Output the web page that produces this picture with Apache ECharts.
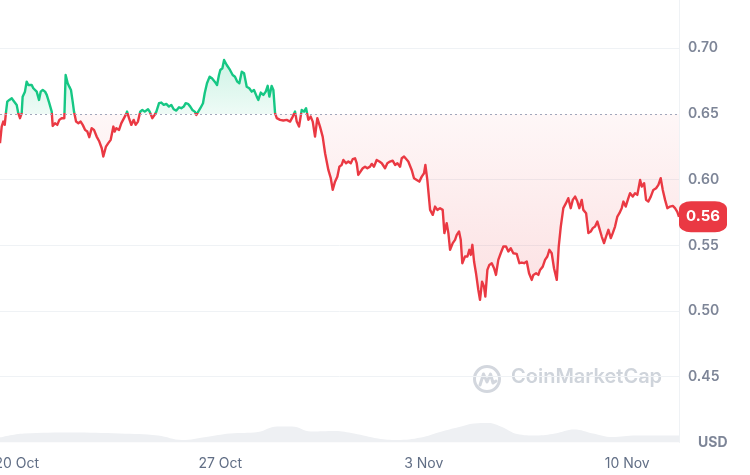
<!DOCTYPE html>
<html>
<head>
<meta charset="utf-8">
<script src="https://cdn.jsdelivr.net/npm/echarts@6/dist/echarts.min.js"></script>
<style>
html,body{margin:0;padding:0;background:#fff;}
#chart{width:750px;height:475px;}
</style>
</head>
<body>
<div id="chart"></div>
<script>
// ---- data (hours since start, price in USD) ----
const startDate = [2024, 9, 19, 10, 8];
const hours = [0.0,1.4,2.7,3.9,5.0,6.0,7.7,9.7,11.0,12.4,13.8,15.1,16.5,17.9,18.7,20.6,22.0,23.4,24.8,26.2,27.5,28.9,30.3,32.2,33.6,35.3,37.2,38.6,40.7,42.7,43.5,45.4,47.3,49.0,50.9,52.3,53.1,54.2,55.9,57.2,58.6,60.0,61.1,62.8,64.7,66.6,68.3,70.2,72.1,73.7,75.7,77.6,79.8,82.0,84.0,85.3,87.5,89.4,91.4,93.6,
94.7,96.0,98.3,100.2,101.6,103.8,104.9,106.5,108.4,110.4,112.0,113.9,115.8,117.5,119.5,120.8,122.2,123.6,125.8,127.7,129.1,131.3,133.2,135.2,137.3,139.5,141.4,143.4,145.6,147.8,149.7,151.7,153.3,155.2,157.1,158.8,160.8,162.1,163.7,165.4,167.6,169.0,170.9,173.1,175.0,177.3,179.2,180.8,181.9,183.6,185.0,
187.2,189.9,192.1,194.0,195.9,197.6,199.6,201.5,203.7,205.8,207.8,209.7,212.0,213.3,215.3,217.4,219.4,221.0,222.4,224.3,225.7,227.1,228.5,231.2,233.9,236.7,239.5,241.7,243.6,245.0,246.9,249.1,251.0,252.7,254.6,256.5,258.2,260.1,262.0,264.2,266.4,268.4,271.1,273.1,274.7,276.6,278.5,280.2,
282.1,283.5,285.7,287.6,289.6,291.2,293.1,294.5,295.8,297.3,299.5,301.4,303.3,305.5,306.9,308.8,311.0,313.2,315.2,317.9,319.8,322.0,324.2,326.2,328.1,330.3,331.7,333.6,335.2,337.1,338.5,339.9,341.8,344.1,346.2,348.2,350.1,351.2,352.8,355.1,357.3,359.2,361.1,363.3,365.5,366.9,368.8,370.2,371.6,373.8,375.7,377.1,379.0,380.4,381.7,383.9,385.9,387.5,388.7,390.0,391.4,393.0,394.9,396.3,398.0,399.6,400.7,402.4,404.0,406.0,407.9,409.5,411.4,413.4,415.6,417.8,419.7,421.7,423.8,426.6,428.8,430.8,432.7,434.9,436.8,439.0,440.4,442.6,444.5,445.9,448.1,450.0,451.9,453.6,455.5,457.4,459.7,461.3,463.0,465.1,467.3,469.2,471.2,472.9,474.8,476.7,478.3,480.3,481.6,483.9,485.8,487.7,489.4,491.3,493.2,494.8,496.8,498.7,500.4,502.3,504.3,505.9,507.8,509.7,511.4,513.3,514.7,516.6,518.8,520.2,522.4,524.3,526.2,528.5,529.9,531.8,533.4,535.3,537.3,539.4,541.7,543.6,545.5,547.2,549.1,551.0,553.2,555.5,557.3,559.2,560.6];
const prices = [0.6278,0.6404,0.6442,0.6417,0.6518,0.6594,0.6607,0.6620,0.6602,0.6607,0.6569,0.6506,0.6468,0.6506,0.6632,0.6670,0.6746,0.6721,0.6708,0.6721,0.6696,0.6683,0.6670,0.6607,0.6670,0.6683,0.6670,0.6645,0.6582,0.6518,0.6409,0.6430,0.6417,0.6455,0.6468,0.6480,0.6468,0.6797,0.6734,0.6708,0.6683,0.6594,0.6518,0.6442,0.6430,0.6442,0.6417,0.6379,0.6366,0.6323,0.6392,0.6379,0.6328,0.6290,0.6239,0.6176,0.6252,0.6278,0.6303,0.6404,
0.6366,0.6392,0.6379,0.6430,0.6417,0.6493,0.6518,0.6468,0.6417,0.6455,0.6417,0.6442,0.6518,0.6531,0.6518,0.6506,0.6536,0.6518,0.6468,0.6493,0.6518,0.6582,0.6587,0.6569,0.6577,0.6556,0.6569,0.6536,0.6526,0.6551,0.6544,0.6556,0.6582,0.6577,0.6556,0.6531,0.6518,0.6493,0.6518,0.6544,0.6582,0.6658,0.6734,0.6784,0.6772,0.6746,0.6721,0.6797,0.6835,0.6848,0.6911,
0.6873,0.6835,0.6797,0.6784,0.6746,0.6734,0.6822,0.6810,0.6708,0.6696,0.6670,0.6683,0.6632,0.6607,0.6663,0.6645,0.6670,0.6714,0.6632,0.6714,0.6683,0.6506,0.6468,0.6455,0.6450,0.6455,0.6442,0.6480,0.6518,0.6442,0.6404,0.6531,0.6518,0.6544,0.6455,0.6480,0.6442,0.6328,0.6468,0.6404,0.6328,0.6201,0.6074,0.6011,0.5922,0.5985,0.6023,0.6099,
0.6112,0.6150,0.6125,0.6138,0.6125,0.6156,0.6163,0.6125,0.6036,0.6049,0.6087,0.6099,0.6087,0.6099,0.6120,0.6099,0.6150,0.6138,0.6125,0.6087,0.6125,0.6138,0.6145,0.6112,0.6125,0.6099,0.6163,0.6176,0.6188,0.6138,0.6150,0.6074,0.6011,0.5998,0.5985,0.6023,0.6049,0.6112,0.5998,0.5770,0.5732,0.5795,0.5770,0.5783,0.5770,0.5593,0.5669,0.5593,0.5466,0.5517,0.5542,0.5580,0.5605,0.5542,0.5364,0.5415,0.5415,0.5466,0.5427,0.5504,0.5377,0.5288,0.5161,0.5085,0.5224,0.5186,0.5110,0.5313,0.5351,0.5364,0.5326,0.5275,0.5389,0.5440,0.5491,0.5491,0.5453,0.5478,0.5440,0.5435,0.5364,0.5369,0.5364,0.5377,0.5288,0.5237,0.5275,0.5288,0.5275,0.5313,0.5338,0.5389,0.5415,0.5466,0.5440,0.5326,0.5237,0.5491,0.5643,0.5783,0.5821,0.5859,0.5783,0.5846,0.5871,0.5833,0.5783,0.5846,0.5770,0.5745,0.5593,0.5605,0.5631,0.5643,0.5681,0.5631,0.5567,0.5517,0.5567,0.5618,0.5555,0.5593,0.5643,0.5719,0.5745,0.5783,0.5833,0.5795,0.5859,0.5897,0.5871,0.5897,0.5884,0.5998,0.5947,0.5973,0.5846,0.5833,0.5871,0.5922,0.5935,0.5960,0.6011,0.5922,0.5846,0.5783,0.5795,0.5800,0.5783,0.5755,0.5717];
const volHours = [0,19.8,59.5,99.1,130.5,150.3,170.1,189.9,213.0,228.7,241.1,256.8,276.6,292.3,312.1,327.8,347.6,363.3,379.0,391.4,402.9,414.5,426.9,442.6,458.3,474.0,489.6,505.3,525.1,553.2,560.6];
const volumes = [10,18,20,18,14,5,11,18,21,32,32,22,23,18,8,5,10,21,31,38,39,31,17,14,18,26,18,11,14,14,14];
const labelDates = [[2024,9,20],[2024,9,27],[2024,10,3],[2024,10,10]];
const baseline = 0.65;
const yTicks = { min: 0.40, max: 0.75, step: 0.05 };
const priceLabel = '0.56';
const monthNames = ['Jan','Feb','Mar','Apr','May','Jun','Jul','Aug','Sep','Oct','Nov','Dec'];

// ---- build ----
const HOUR = 3600e3;
const startTime = new Date(...startDate).getTime();
const priceData = hours.map((h, i) => [h, prices[i]]);
const volData = volHours.map((h, i) => [h, volumes[i]]);
const labelHours = labelDates.map(d => (new Date(d[0], d[1], d[2]).getTime() - startTime) / HOUR);
const pMax = Math.max(...prices), pMin = Math.min(...prices);
const frac = (pMax - baseline) / (pMax - pMin);
const last = priceData[priceData.length - 1];
const xMin = hours[0], xMax = hours[hours.length - 1];

const GREEN = '#16c784', RED = '#ea3943';
const chart = echarts.init(document.getElementById('chart'), null, {renderer: 'canvas'});
const FONT = 'Inter, "Noto Sans", sans-serif';
const gridC = '#eff2f5';

chart.setOption({
  animation: false,
  backgroundColor: '#ffffff',
  grid: [
    {left: 0, right: 71, top: -17.4, bottom: 32.6, outerBoundsMode: 'none', containLabel: false},
    {left: 0, right: 71, bottom: 32.6, height: 40, outerBoundsMode: 'none', containLabel: false}
  ],
  xAxis: [
    {
      type: 'value', gridIndex: 0, min: xMin, max: xMax,
      axisLine: {show: false, onZero: false}, axisTick: {show: false}, splitLine: {show: false},
      axisLabel: {
        customValues: labelHours, margin: 14, hideOverlap: false, showMinLabel: true, showMaxLabel: true,
        color: '#616e85', fontFamily: FONT, fontSize: 14,
        formatter: v => { const d = new Date(startTime + v * HOUR + 60000); return d.getDate() + ' ' + monthNames[d.getMonth()]; }
      }
    },
    {type: 'value', gridIndex: 1, min: xMin, max: xMax, show: false}
  ],
  yAxis: [
    {
      type: 'value', gridIndex: 0, position: 'right',
      min: yTicks.min, max: yTicks.max, interval: yTicks.step,
      axisLine: {show: true, onZero: false, lineStyle: {color: gridC, width: 1}},
      axisTick: {show: false},
      splitLine: {show: true, lineStyle: {color: ['transparent', gridC, gridC, gridC, gridC, 'transparent', gridC, gridC], width: 1}},
      axisLabel: {
        margin: 9, color: '#7d8597', fontFamily: FONT, fontSize: 14, fontWeight: 600,
        formatter: v => Math.abs(v - yTicks.min) < 1e-6 ? '{u|USD}' : v.toFixed(2),
        rich: {u: {color: '#7d8597', fontFamily: FONT, fontSize: 14, fontWeight: 700, padding: [0, 0, 0, 10]}}
      }
    },
    {type: 'value', gridIndex: 1, min: 0, max: 80, show: false}
  ],
  series: [
    {
      type: 'line', xAxisIndex: 0, yAxisIndex: 0, data: priceData,
      showSymbol: false, symbol: 'none', z: 4,
      lineStyle: {
        width: 2.4, join: 'round',
        color: new echarts.graphic.LinearGradient(0, 0, 0, 1, [
          {offset: 0, color: GREEN}, {offset: frac, color: GREEN},
          {offset: frac, color: RED}, {offset: 1, color: RED}
        ])
      },
      areaStyle: {
        origin: baseline,
        color: new echarts.graphic.LinearGradient(0, 0, 0, 1, [
          {offset: 0, color: 'rgba(22,199,132,0.30)'},
          {offset: frac, color: 'rgba(22,199,132,0.10)'},
          {offset: frac, color: 'rgba(234,57,67,0.06)'},
          {offset: 1, color: 'rgba(234,57,67,0.22)'}
        ])
      },
      markLine: {
        silent: true, symbol: 'none', animation: false,
        label: {show: false},
        lineStyle: {color: '#a1a7bb', type: [2, 3], width: 1},
        data: [{yAxis: baseline}]
      },
      markPoint: {
        silent: true, animation: false,
        symbol: 'roundRect', symbolSize: [48, 31], symbolOffset: [24, 0],
        itemStyle: {color: RED},
        label: {show: true, position: 'inside', formatter: priceLabel, color: '#ffffff', fontFamily: FONT, fontSize: 15, fontWeight: 700},
        data: [{coord: last}]
      }
    },
    {
      type: 'line', xAxisIndex: 1, yAxisIndex: 1, data: volData,
      showSymbol: false, symbol: 'none', smooth: 0.4, z: 1,
      lineStyle: {width: 0, color: '#eef0f3'},
      areaStyle: {color: '#eef0f3', opacity: 1}
    }
  ],
  graphic: [
    {
      type: 'group', left: 472, top: 364, z: 0, silent: true,
      children: [
        {type: 'circle', shape: {cx: 14, cy: 14, r: 12.5}, style: {fill: 'none', stroke: '#d3d7de', lineWidth: 3}},
        {type: 'polyline', shape: {points: [[7, 20], [10.5, 9], [14, 17], [17.5, 9], [20, 18], [23, 16]]}, style: {fill: 'none', stroke: '#d3d7de', lineWidth: 3, lineJoin: 'round', lineCap: 'round'}}
      ]
    },
    {
      type: 'text', left: 511, top: 367, z: 0, silent: true,
      style: {text: 'CoinMarketCap', fill: '#cfd4db', font: '600 20px Inter, "Noto Sans", sans-serif'}
    }
  ]
});
</script>
</body>
</html>
